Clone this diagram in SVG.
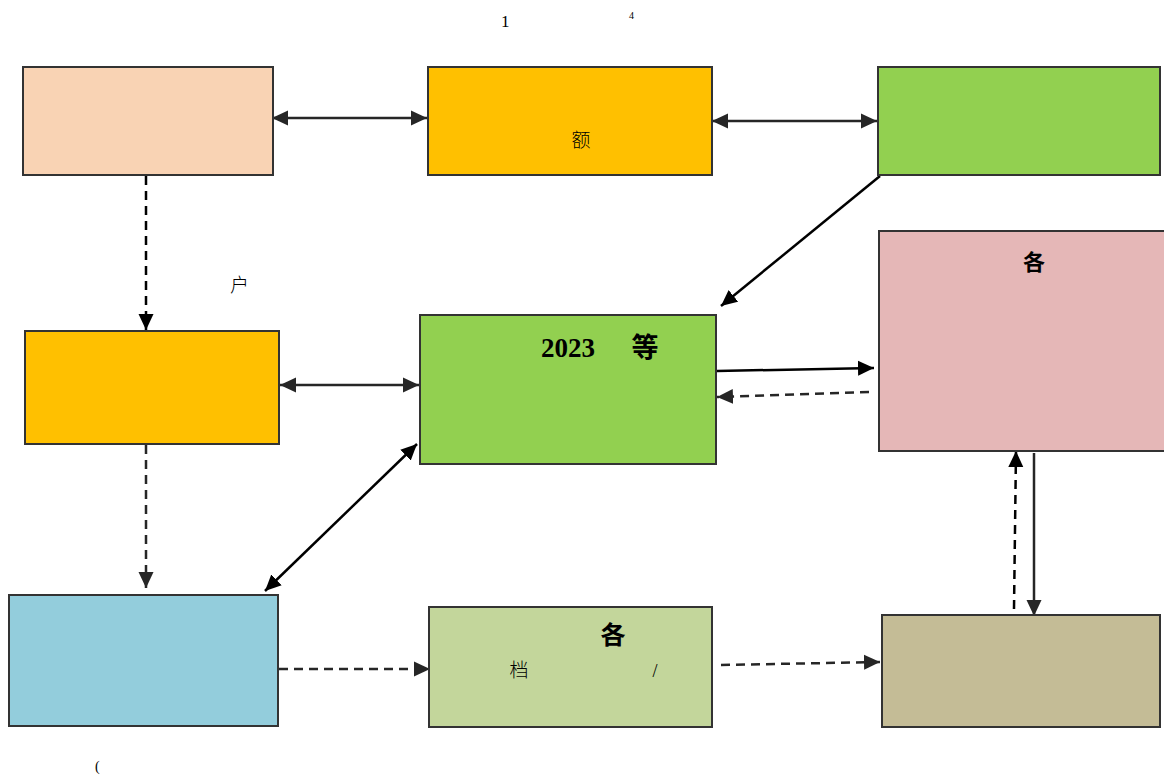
<svg xmlns="http://www.w3.org/2000/svg" width="1164" height="776" viewBox="0 0 1164 776">
<style>
.box{stroke:#333333;stroke-width:2}
.c{fill:none;stroke:#262626;stroke-width:2.5}
.k{stroke:#000000}
.d{stroke-dasharray:9,6}
.t{font-family:"Liberation Serif","Noto Sans CJK SC",serif;fill:#000}
.cj{font-family:"Noto Sans CJK SC","Liberation Serif",sans-serif;fill:#000}
</style>
<defs>
<marker id="ah" markerUnits="userSpaceOnUse" markerWidth="17" markerHeight="16" refX="16" refY="8" orient="auto-start-reverse">
<path d="M0,0.5 L16,8 L0,15.5 z" fill="#262626"/>
</marker>
<marker id="ahk" markerUnits="userSpaceOnUse" markerWidth="17" markerHeight="16" refX="16" refY="8" orient="auto-start-reverse">
<path d="M0,0.5 L16,8 L0,15.5 z" fill="#000"/>
</marker>
</defs>
<rect width="1164" height="776" fill="#fff"/>
<text class="t" x="501" y="27" font-size="17">1</text>
<text class="t" x="629" y="19" font-size="10">4</text>
<text class="cj" x="230" y="292" font-size="19" font-weight="300">户</text>
<text class="t" x="95" y="771" font-size="14">(</text>

<g id="connectors">
<line class="c" x1="272" y1="118" x2="427" y2="118" marker-start="url(#ah)" marker-end="url(#ah)"/>
<line class="c" x1="712" y1="121" x2="877" y2="121" marker-start="url(#ah)" marker-end="url(#ah)"/>
<line class="c k" x1="880" y1="176" x2="721" y2="306" marker-end="url(#ahk)"/>
<line class="c d k" x1="146" y1="176" x2="146" y2="330" marker-end="url(#ahk)"/>
<line class="c" x1="280" y1="385" x2="419" y2="385" marker-start="url(#ah)" marker-end="url(#ah)"/>
<line class="c d" x1="146" y1="445" x2="146" y2="588" marker-end="url(#ah)"/>
<line class="c k" x1="265" y1="591" x2="417" y2="444" marker-start="url(#ahk)" marker-end="url(#ahk)"/>
<line class="c k" x1="717" y1="371" x2="874" y2="368" marker-end="url(#ahk)"/>
<line class="c d" x1="869" y1="392" x2="717" y2="397" marker-end="url(#ah)"/>
<line class="c d k" x1="1014" y1="609" x2="1016" y2="451" marker-end="url(#ahk)"/>
<line class="c" x1="1034" y1="453" x2="1034" y2="616" marker-end="url(#ah)"/>
<line class="c d" x1="279" y1="669" x2="430" y2="669" marker-end="url(#ah)"/>
<line class="c d" x1="721" y1="665" x2="880" y2="662" marker-end="url(#ah)"/>
</g>

<g id="nodeA"><rect class="box" x="23" y="67" width="250" height="108" fill="#F9D3B4"/></g>
<g id="nodeB"><rect class="box" x="428" y="67" width="284" height="108" fill="#FFC000"/>
<text class="cj" x="581" y="147" font-size="19" text-anchor="middle" font-weight="300">额</text></g>
<g id="nodeC"><rect class="box" x="878" y="67" width="282" height="108" fill="#92D050"/></g>
<g id="nodeD"><rect class="box" x="25" y="331" width="254" height="113" fill="#FFC000"/></g>
<g id="nodeE"><rect class="box" x="420" y="315" width="296" height="149" fill="#92D050"/>
<text class="t" x="541" y="357" font-size="27" font-weight="bold">2023</text>
<text class="cj" x="645" y="357" font-size="27" font-weight="bold" text-anchor="middle">等</text></g>
<g id="nodeF"><rect class="box" x="879" y="231" width="287" height="220" fill="#E5B7B7"/>
<text class="cj" x="1034" y="270" font-size="22" font-weight="bold" text-anchor="middle">各</text></g>
<g id="nodeG"><rect class="box" x="9" y="595" width="269" height="131" fill="#93CDDC"/></g>
<g id="nodeH"><rect class="box" x="429" y="607" width="283" height="120" fill="#C3D69B"/>
<text class="cj" x="613" y="644" font-size="25" font-weight="bold" text-anchor="middle">各</text>
<text class="cj" x="519" y="677" font-size="19" font-weight="300" text-anchor="middle">档</text>
<text class="t" x="655" y="677" font-size="18" text-anchor="middle">/</text></g>
<g id="nodeI"><rect class="box" x="882" y="615" width="278" height="112" fill="#C4BC96"/></g>
</svg>
